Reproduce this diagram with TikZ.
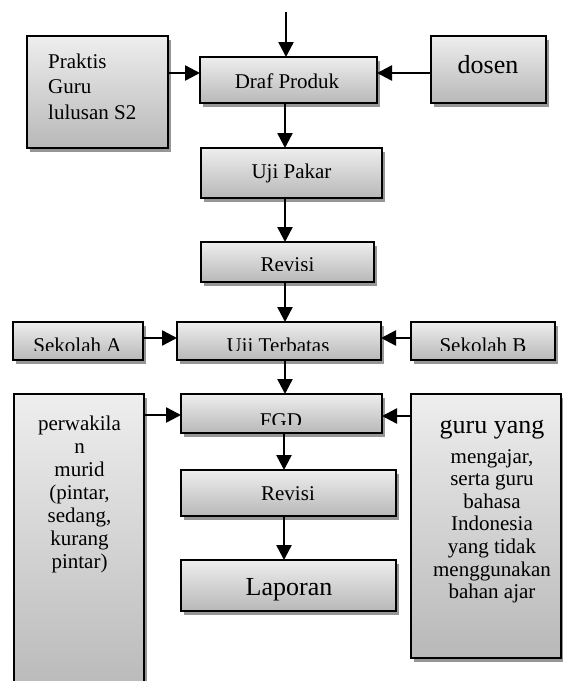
\documentclass[tikz,border=0pt]{standalone}
\usepackage{fontspec}
\setmainfont{Liberation Serif}
\usetikzlibrary{arrows.meta,shadows}
\definecolor{boxtop}{RGB}{238,238,238}
\definecolor{boxbot}{RGB}{184,184,184}
\definecolor{shadowc}{RGB}{150,150,150}
\begin{document}
\begin{tikzpicture}[x=1pt,y=-1pt,
  box/.style={draw=black, line width=2.2pt, top color=boxtop, bottom color=boxbot,
    inner sep=0pt, outer sep=0pt,
    drop shadow={shadow xshift=3pt, shadow yshift=-4pt, fill=shadowc, opacity=1}},
  arr/.style={line width=2.5pt, -{Triangle[length=15pt,width=15pt]}},
  txt/.style={font=\fontsize{21}{25}\selectfont, inner sep=0pt, anchor=base},
  bigtxt/.style={font=\fontsize{26}{30}\selectfont, inner sep=0pt, anchor=base}]
\useasboundingbox (0,0) rectangle (563,681);
\clip (0,0) rectangle (563,681);

% boxes
\node[box, minimum width=141pt, minimum height=112pt] (praktis) at (97.5,92) {};
\node[box, minimum width=177pt, minimum height=46pt] (draf) at (288.5,80) {};
\node[box, minimum width=115pt, minimum height=67pt] (dosen) at (488.5,69.5) {};
\node[box, minimum width=181pt, minimum height=50pt] (ujipakar) at (291.5,173) {};
\node[box, minimum width=173pt, minimum height=40pt] (revisia) at (287.5,262) {};
\node[box, minimum width=130pt, minimum height=38pt] (sekA) at (78,341) {};
\node[box, minimum width=204pt, minimum height=38pt] (ujiter) at (279,341) {};
\node[box, minimum width=144pt, minimum height=38pt] (sekB) at (483,341) {};
\node[box, minimum width=201pt, minimum height=39pt] (fgd) at (281.5,413.5) {};
\node[box, minimum width=130pt, minimum height=306pt] (perw) at (79,547) {};
\node[box, minimum width=150pt, minimum height=264pt] (guru) at (486,526) {};
\node[box, minimum width=215pt, minimum height=46pt] (revisib) at (288.5,493) {};
\node[box, minimum width=215pt, minimum height=51pt] (laporan) at (288.5,585.5) {};

% texts
\foreach \t [count=\i] in {Praktis,Guru,lulusan S2}
  \node[txt, anchor=base west] (pr\i) at (48,{68+25.7*(\i-1)}) {\t};
\node[bigtxt] (dosent) at (488,73) {dosen};
\node[txt] (draft) at (287,88) {Draf Produk};
\node[txt] (ujipakart) at (291.5,178.5) {Uji Pakar};
\begin{scope}
  \clip (revisia.north west) rectangle (revisia.east |- 0,270);
  \node[txt] (revisiat) at (287.5,271.5) {Revisi};
\end{scope}
\begin{scope}
  \clip (sekA.north west) rectangle (sekB.east |- 0,350.5);
  \node[txt] (sekAt) at (77.5,352.5) {Sekolah A};
  \node[txt] (ujitert) at (278,352.5) {Uji Terbatas};
  \node[txt] (sekBt) at (483,352.5) {Sekolah B};
\end{scope}
\begin{scope}
  \clip (fgd.north west) rectangle (fgd.east |- 0,424);
  \node[txt] (fgdt) at (281,427.5) {FGD};
\end{scope}
\node[txt] (revisibt) at (288,500.5) {Revisi};
\node[bigtxt] (laporant) at (289,595) {Laporan};
\foreach \t [count=\i] in {perwakila,n,murid,{(pintar,},{sedang,},kurang,{pintar)}}
  \node[txt] (pw\i) at (79.5,{430.5+23*(\i-1)}) {\t};
\node[bigtxt] (gy0) at (492,433) {guru yang};
\foreach \t [count=\i] in {{mengajar,},serta guru,bahasa,Indonesia,yang tidak,menggunakan,bahan ajar}
  \node[txt] (gy\i) at (492,{463+22.6*(\i-1)}) {\t};

% connectors
\coordinate (start) at (286,12);
\draw[arr] (start) -- (start |- draf.north);
\draw[arr] (praktis.east |- 0,73) -- (draf.west |- 0,73);
\draw[arr] (dosen.west |- 0,73) -- (draf.east |- 0,73);
\draw[arr] (draf.south -| 285,0) -- (ujipakar.north -| 285,0);
\draw[arr] (ujipakar.south -| 285,0) -- (revisia.north -| 285,0);
\draw[arr] (revisia.south -| 285,0) -- (ujiter.north -| 285,0);
\draw[arr] (sekA.east |- 0,338) -- (ujiter.west |- 0,338);
\draw[arr] (sekB.west |- 0,338) -- (ujiter.east |- 0,338);
\draw[arr] (ujiter.south -| 285,0) -- (fgd.north -| 285,0);
\draw[arr] (perw.east |- 0,415) -- (fgd.west |- 0,415);
\draw[arr] (guru.west |- 0,416) -- (fgd.east |- 0,416);
\draw[arr] (fgd.south -| 284,0) -- (revisib.north -| 284,0);
\draw[arr] (revisib.south -| 284,0) -- (laporan.north -| 284,0);
\end{tikzpicture}
\end{document}
